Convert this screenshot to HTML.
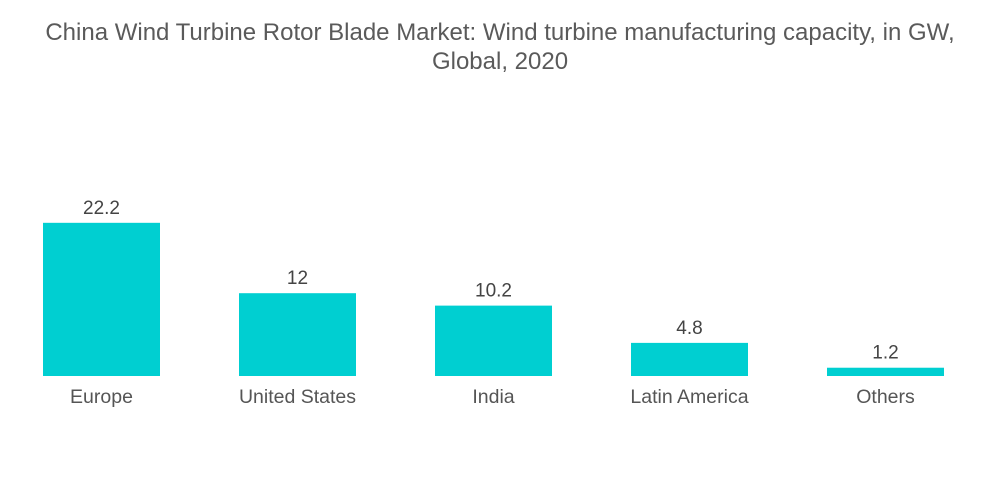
<!DOCTYPE html>
<html>
<head>
<meta charset="utf-8">
<style>
  html, body { margin: 0; padding: 0; background: #fff; }
  body { width: 1000px; height: 504px; overflow: hidden; font-family: "Liberation Sans", sans-serif; }
  #title { position: absolute; left: 0; top: 18px; width: 1000px; text-align: center; color: #5a5a5a; font-size: 24px; line-height: 29px; }
  svg { position: absolute; left: 0; top: 0; }
</style>
</head>
<body>
<div id="title">China Wind Turbine Rotor Blade Market: Wind turbine manufacturing capacity, in GW,<br>Global, 2020</div>
<svg id="chart" width="1000" height="504"></svg>
<script>
const categories = ["Europe", "United States", "India", "Latin America", "Others"];
const values = [22.2, 12, 10.2, 4.8, 1.2];
const valueLabels = ["22.2", "12", "10.2", "4.8", "1.2"];

const svg = document.getElementById('chart');
const NS = 'http://www.w3.org/2000/svg';
const baseline = 376, pxPerUnit = 6.9;
const firstX = 43, step = 196, barW = 117;
function xPos(i) { return firstX + i * step; }
function yPos(v) { return baseline - v * pxPerUnit; }

categories.forEach((c, i) => {
  const x = xPos(i), y = yPos(values[i]);
  const r = document.createElementNS(NS, 'rect');
  r.setAttribute('x', x); r.setAttribute('y', y);
  r.setAttribute('width', barW); r.setAttribute('height', baseline - y);
  r.setAttribute('fill', '#00cfd1');
  
  
  svg.appendChild(r);

  const vt = document.createElementNS(NS, 'text');
  vt.setAttribute('x', x + barW / 2); vt.setAttribute('y', y - 9);
  vt.setAttribute('text-anchor', 'middle');
  vt.setAttribute('font-size', '19'); vt.setAttribute('fill', '#444');
  vt.setAttribute('font-family', 'Liberation Sans, sans-serif');
  vt.textContent = valueLabels[i];
  
  
  svg.appendChild(vt);

  const ct = document.createElementNS(NS, 'text');
  ct.setAttribute('x', x + barW / 2); ct.setAttribute('y', 403);
  ct.setAttribute('text-anchor', 'middle');
  ct.setAttribute('font-size', '19.5'); ct.setAttribute('fill', '#555');
  ct.setAttribute('font-family', 'Liberation Sans, sans-serif');
  ct.textContent = c;
  
  
  svg.appendChild(ct);
});
</script>
</body>
</html>
